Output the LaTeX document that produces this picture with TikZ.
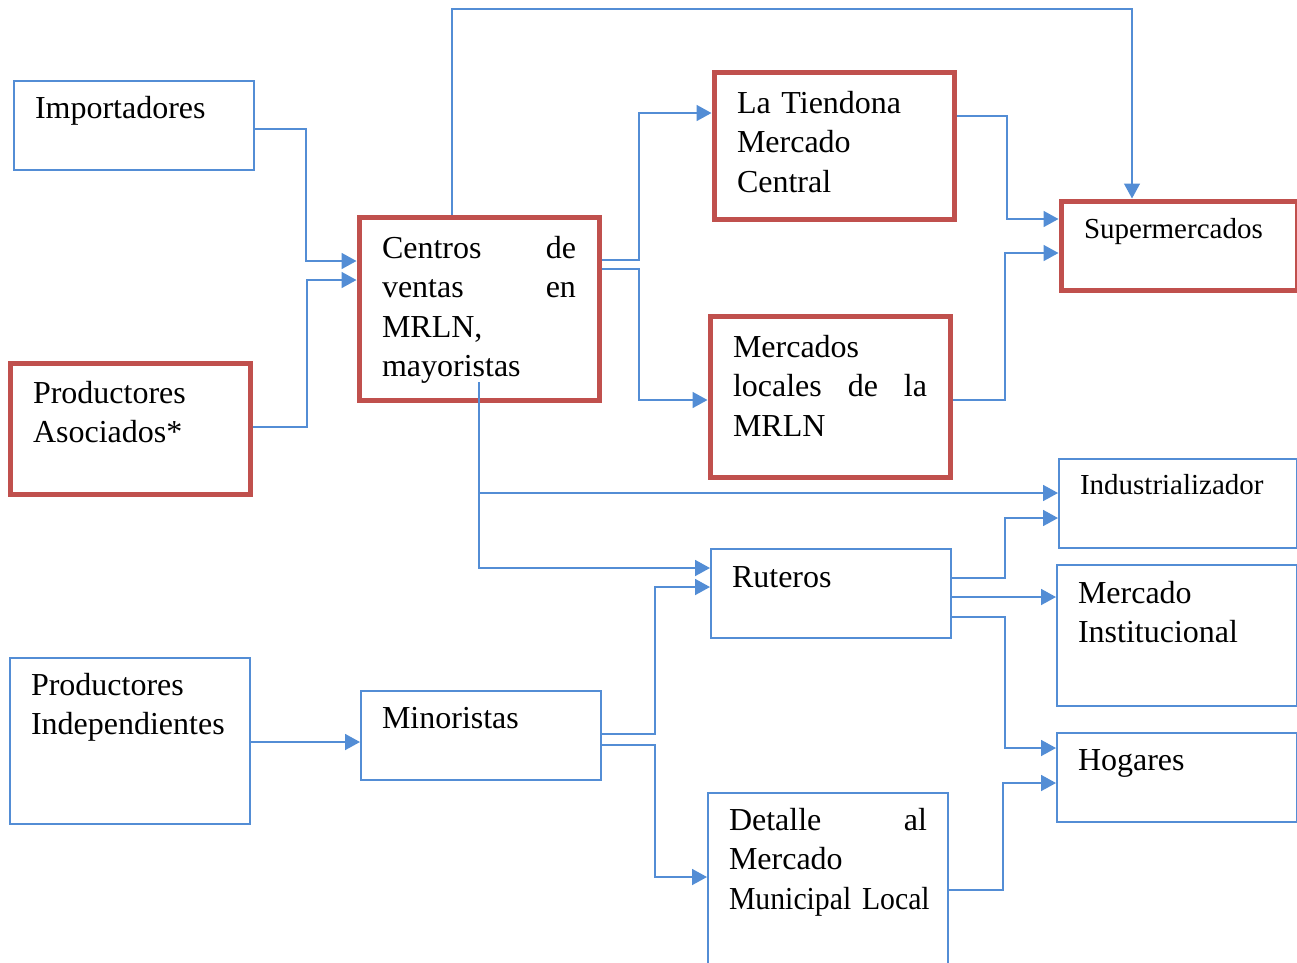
\documentclass[tikz,border=0pt]{standalone}
\usepackage{fontspec}
\setmainfont{Liberation Serif}
\usetikzlibrary{arrows.meta}

\definecolor{lineblue}{RGB}{83,141,213}
\definecolor{boxred}{RGB}{192,80,77}

\begin{document}
\begin{tikzpicture}[x=1pt, y=-1pt,
    every node/.style={font=\fontsize{32}{39.5}\selectfont},
    bluebox/.style={draw=lineblue, line width=2pt, anchor=north west, align=left, inner xsep=21pt, inner ysep=0pt},
    redbox/.style={draw=boxred, line width=5pt, anchor=north west, align=left, inner xsep=23pt, inner ysep=0pt},
    link/.style={lineblue, line width=1.8pt, -{Triangle[length=15pt,width=16pt]}}]
    \useasboundingbox (0,0) rectangle (1297,962);

    % Sources
    \node[bluebox, text width=198pt, text height=37pt, text depth=52pt] (imp) at (13,80) {Importadores};
    \node[redbox, text width=194pt, text height=40pt, text depth=91pt] (asoc) at (7.5,360.5) {Productores\\Asociados*};
    \node[bluebox, text width=198pt, text height=37pt, text depth=129pt] (indep) at (9,657) {Productores\\Independientes};

    % Wholesale and retail
    \node[redbox, text width=194pt, text height=40.5pt, text depth=142.5pt] (centros) at (356.5,215) {Centros \hfill de\\ventas \hfill en\\MRLN,\\mayoristas};
    \node[bluebox, text width=198pt, text height=37pt, text depth=52pt] (minor) at (360,690) {Minoristas};

    % Markets
    \node[redbox, text width=194pt, text height=41pt, text depth=106pt] (tiend) at (711.5,69.5) {La Tiendona\\Mercado\\Central};
    \node[redbox, text width=194pt, text height=41pt, text depth=120pt] (locales) at (707.5,313.5) {Mercados\\locales \hfill de \hfill la\\MRLN};
    \node[bluebox, text width=198pt, text height=38pt, text depth=51pt] (ruteros) at (710,548) {Ruteros};
    \node[bluebox, text width=198pt, text height=37pt, text depth=250pt] (detalle) at (707,792) {Detalle \hfill al\\Mercado\\\mbox{\addfontfeatures{FakeStretch=0.93}Municipal Local}};

    % Final buyers
    \node[redbox, font=\fontsize{29}{36}\selectfont, text width=190pt, text height=37pt, text depth=52pt] (super) at (1058.5,198.5) {Supermercados};
    \node[bluebox, font=\fontsize{29}{36}\selectfont, text width=196pt, text height=35pt, text depth=54pt] (indus) at (1058,458) {Industrializador};
    \node[bluebox, text width=198pt, text height=38pt, text depth=103pt] (inst) at (1056,564) {Mercado\\Institucional};
    \node[bluebox, text width=198pt, text height=37pt, text depth=52pt] (hogar) at (1056,732) {Hogares};

    % Flows
    \draw[link] (imp.east |- 0,129) -- (306,129) |- (centros.west |- 0,261);
    \draw[link] (asoc.east |- 0,427) -- (307,427) |- (centros.west |- 0,280);
    \draw[link, line width=1.4pt] (centros.north -| 452,0) |- (1132,9) -- (super.north -| 1132,0);
    \draw[link] (centros.east |- 0,260) -- (639,260) |- (tiend.west |- 0,113);
    \draw[link] (centros.east |- 0,269) -- (639,269) |- (locales.west |- 0,400);
    \draw[link] (tiend.east |- 0,116) -- (1007,116) |- (super.west |- 0,219);
    \draw[link] (locales.east |- 0,400) -- (1005,400) |- (super.west |- 0,253);
    \coordinate (ctail) at (479,382);
    \draw[link] (ctail) |- (indus.west |- 0,493);
    \draw[link] (ctail) |- (ruteros.west |- 0,568);
    \draw[link] (indep.east |- 0,742) -- (minor.west |- 0,742);
    \draw[link] (minor.east |- 0,734) -- (655,734) |- (ruteros.west |- 0,587);
    \draw[link] (minor.east |- 0,745) -- (655,745) |- (detalle.west |- 0,877);
    \draw[link] (ruteros.east |- 0,578) -- (1005,578) |- (indus.west |- 0,518);
    \draw[link] (ruteros.east |- 0,597) -- (inst.west |- 0,597);
    \draw[link] (ruteros.east |- 0,617) -- (1005,617) |- (hogar.west |- 0,748);
    \draw[link] (detalle.east |- 0,890) -- (1003,890) |- (hogar.west |- 0,783);
\end{tikzpicture}
\end{document}
